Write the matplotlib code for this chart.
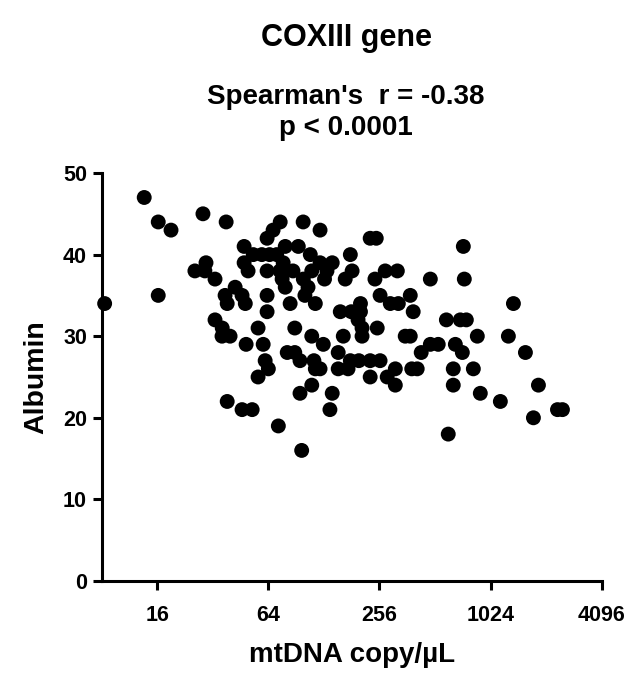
import numpy as np
import matplotlib
matplotlib.use("Agg")
import matplotlib.pyplot as plt
import matplotlib.ticker as mtick

plt.rcParams['font.family'] = ['Liberation Sans', 'DejaVu Sans']
plt.rcParams['font.weight'] = 'bold'

# mtDNA copies per uL (x) and albumin (y)
mtdna = [8.3, 13.6, 16.2, 19.0, 16.2, 28.3, 37.8, 25.6, 29.0, 29.4,
         32.9, 42.3, 37.3, 46.1, 38.3, 48.0, 32.9, 36.0, 35.9, 39.7,
         38.3, 46.1, 52.3, 47.3, 47.3, 49.7, 48.5, 60.0, 56.3, 63.0,
         63.0, 61.5, 64.0, 56.3, 72.5, 63.0, 63.0, 67.9, 74.2, 98.8,
         122, 53, 59, 65, 71, 79, 93, 77, 76, 79,
         84, 74, 87, 110, 133, 182, 108, 178, 122, 142,
         99, 129, 167, 242, 105, 101, 115, 258, 293, 324,
         157, 180, 202, 202, 196, 206, 249, 89, 110, 163,
         206, 127, 81, 89, 153, 95, 113, 115, 122, 153,
         173, 198, 178, 228, 258, 228, 282, 312, 110, 95,
         142, 138, 97, 228, 246, 729, 275, 320, 483, 738,
         376, 1362, 390, 590, 702, 757, 353, 376, 868, 1279,
         483, 533, 660, 720, 1582, 431, 312, 383, 410, 643,
         826, 643, 901, 1157, 1861, 2360, 2511, 1748, 604]
albumin = [34, 47, 44, 43, 35, 45, 44, 38, 38, 39,
           37, 36, 35, 35, 34, 34, 32, 31, 30, 30,
           22, 21, 21, 41, 39, 38, 29, 29, 31, 35,
           33, 27, 26, 25, 19, 38, 42, 43, 44, 44,
           43, 40, 40, 40, 40, 41, 41, 39, 37, 36,
           34, 38, 38, 38, 38, 38, 40, 40, 39, 39,
           37, 37, 37, 37, 36, 35, 34, 35, 34, 34,
           33, 33, 33, 34, 32, 31, 31, 31, 30, 30,
           30, 29, 28, 28, 28, 27, 27, 26, 26, 26,
           26, 27, 27, 27, 27, 25, 25, 24, 24, 23,
           23, 21, 16, 42, 42, 41, 38, 38, 37, 37,
           35, 34, 33, 32, 32, 32, 30, 30, 30, 30,
           29, 29, 29, 28, 28, 28, 26, 26, 26, 26,
           26, 24, 23, 22, 24, 21, 21, 20, 18]

xticks = [16, 64, 256, 1024, 4096]
yticks = [0, 10, 20, 30, 40, 50]

fig = plt.figure(figsize=(6.34, 6.75), dpi=100)
ax = fig.add_axes([0.1604, 0.1393, 0.7886, 0.6044])

ax.scatter(mtdna, albumin, s=115, color='black', edgecolors='none', clip_on=False, zorder=3)

ax.set_xscale('log', base=2)
ax.set_xlim(8, 4096)
ax.set_ylim(0, 50)
ax.set_xticks(xticks)
ax.xaxis.set_major_formatter(mtick.FixedFormatter([str(t) for t in xticks]))
ax.xaxis.set_minor_locator(mtick.NullLocator())
ax.set_yticks(yticks)

for s in ['top', 'right']:
    ax.spines[s].set_visible(False)
for s in ['left', 'bottom']:
    ax.spines[s].set_linewidth(2.2)

ax.tick_params(axis='both', which='major', direction='out', length=6.5, width=2.2,
               labelsize=15.5, pad=4)
for lab in ax.get_xticklabels() + ax.get_yticklabels():
    lab.set_fontweight('bold')
ax.tick_params(axis='x', pad=11)

ax.set_xlabel('mtDNA copy/\u00b5L', fontsize=20, fontweight='bold', labelpad=11)
ax.set_ylabel('Albumin', fontsize=20.5, fontweight='bold', labelpad=10)

fig.text(0.546, 0.944, 'COXIII gene', ha='center', va='center', fontsize=22, fontweight='bold')
fig.text(0.546, 0.856, "Spearman's  r = -0.38", ha='center', va='center', fontsize=20, fontweight='bold')
fig.text(0.546, 0.81, 'p < 0.0001', ha='center', va='center', fontsize=20, fontweight='bold')

fig.savefig('out.png', dpi=100, facecolor='w')
plt.close(fig)
